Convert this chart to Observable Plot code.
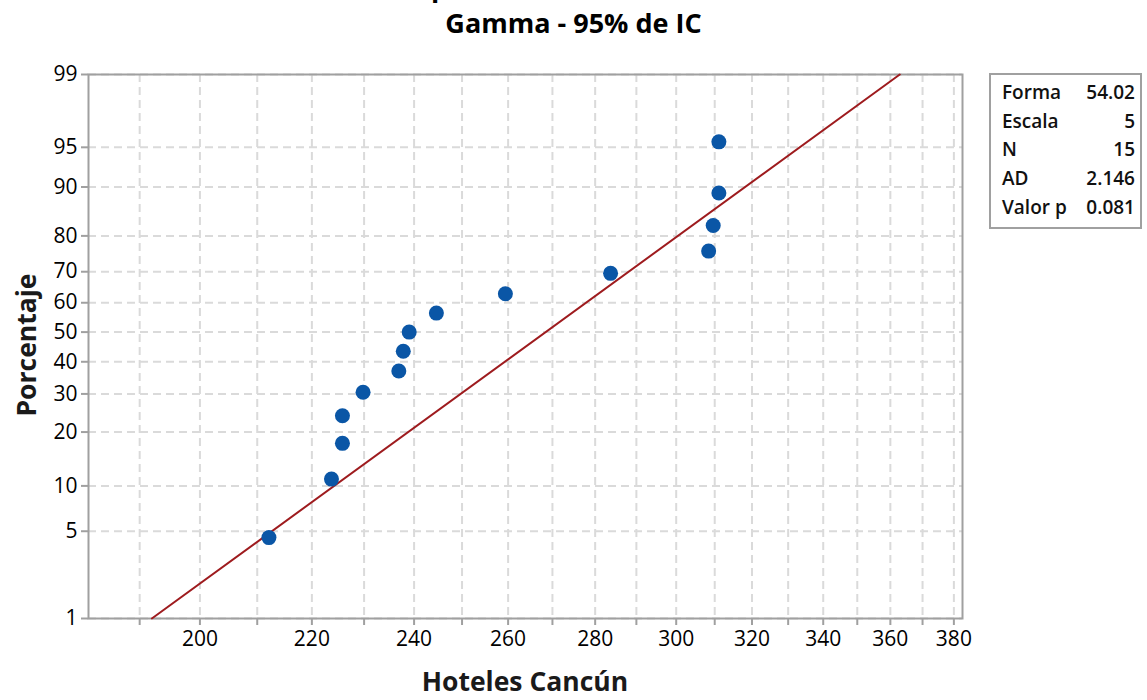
<!DOCTYPE html>
<html>
<head>
<meta charset="utf-8">
<script src="https://cdn.jsdelivr.net/npm/d3@7"></script>
<script src="https://cdn.jsdelivr.net/npm/@observablehq/plot@0.6"></script>
<style>
  html, body { margin: 0; padding: 0; background: #fff; }
  #wrap { position: relative; width: 1147px; height: 700px; overflow: hidden; font-family: "Open Sans", sans-serif; }
  .title { position: absolute; left: 0; width: 1147px; text-align: center; font-weight: 700; font-size: 27px; color: #000; white-space: nowrap; line-height: 1.2; }
  .axlab { position: absolute; font-weight: 700; font-size: 26.5px; color: #1a1a1a; white-space: nowrap; line-height: 1.2; }
  #legend { position: absolute; left: 989px; top: 73px; width: 149px; height: 152px; border: 2px solid #a0a0a0; box-sizing: content-box; }
  #legend .row { position: absolute; left: 11px; right: 5px; font-size: 19px; font-weight: 600; color: #111; display: flex; justify-content: space-between; line-height: 1.2; }
</style>
</head>
<body>
<div id="wrap"></div>
<script>
// ---- data ----
const hoteles = [212.1, 223.7, 225.8, 225.8, 229.8, 236.9, 237.8, 239.0, 244.6, 259.4, 283.7, 308.4, 309.6, 311.1, 311.1];
const porcentaje = [4.5, 11.0, 17.5, 24.0, 30.5, 37.0, 43.5, 50.0, 56.5, 63.0, 69.5, 76.0, 82.5, 89.0, 95.5];
const yTickValues = [1, 5, 10, 20, 30, 40, 50, 60, 70, 80, 90, 95, 99];
const xGridValues = [190, 200, 210, 220, 230, 240, 250, 260, 270, 280, 290, 300, 310, 320, 330, 340, 350, 360, 370, 380];
const xLabelValues = [200, 220, 240, 260, 280, 300, 320, 340, 360, 380];
const statLabels = ["Forma", "Escala", "N", "AD", "Valor p"];
const statValues = ["54.02", "5", "15", "2.146", "0.081"];
const forma = 54.02, escala = 5;
const fitPercents = [1, 99];

// ---- probability scale helpers ----
function normInv(p) {
  const a = [-3.969683028665376e+01, 2.209460984245205e+02, -2.759285104469687e+02, 1.383577518672690e+02, -3.066479806614716e+01, 2.506628277459239e+00];
  const b = [-5.447609879822406e+01, 1.615858368580409e+02, -1.556989798598866e+02, 6.680131188771972e+01, -1.328068155288572e+01];
  const c = [-7.784894002430293e-03, -3.223964580411365e-01, -2.400758277161838e+00, -2.549732539343734e+00, 4.374664141464968e+00, 2.938163982698783e+00];
  const d = [7.784695709041462e-03, 3.224671290700398e-01, 2.445134137142996e+00, 3.754408661907416e+00];
  const pl = 0.02425;
  let q, r;
  if (p < pl) { q = Math.sqrt(-2 * Math.log(p)); return (((((c[0]*q+c[1])*q+c[2])*q+c[3])*q+c[4])*q+c[5]) / ((((d[0]*q+d[1])*q+d[2])*q+d[3])*q+1); }
  if (p > 1 - pl) { q = Math.sqrt(-2 * Math.log(1 - p)); return -(((((c[0]*q+c[1])*q+c[2])*q+c[3])*q+c[4])*q+c[5]) / ((((d[0]*q+d[1])*q+d[2])*q+d[3])*q+1); }
  q = p - 0.5; r = q * q;
  return (((((a[0]*r+a[1])*r+a[2])*r+a[3])*r+a[4])*r+a[5])*q / (((((b[0]*r+b[1])*r+b[2])*r+b[3])*r+b[4])*r+1);
}
// Wilson–Hilferty gamma quantile (unit scale)
function gammaQ(p, k) {
  const z = normInv(p);
  const t = 1 - 1 / (9 * k) + z / (3 * Math.sqrt(k));
  return k * t * t * t;
}
const tr = pct => Math.log(gammaQ(pct / 100, forma));

const points = hoteles.map((v, i) => ({x: v, y: tr(porcentaje[i])}));
const fit = fitPercents.map(p => ({x: escala * gammaQ(p / 100, forma), y: tr(p)}));
const yTicksT = yTickValues.map(tr);
const yLabelMap = new Map(yTicksT.map((t, i) => [t, String(yTickValues[i])]));

const gridStyle = {stroke: "#dadada", strokeWidth: 2, strokeDasharray: "8,5"};

const chart = Plot.plot({
  width: 1147,
  height: 700,
  marginLeft: 88,
  marginRight: 185,
  marginTop: 74,
  marginBottom: 82,
  style: {fontFamily: "Open Sans, sans-serif", fontSize: "21px", color: "#000", background: "transparent"},
  x: {type: "log", domain: [181.9, 382.8]},
  y: {type: "linear", domain: [tr(1), tr(99)]},
  marks: [
    Plot.ruleX(xGridValues, gridStyle),
    Plot.ruleY(yTicksT, gridStyle),
    Plot.axisX(xGridValues, {
      tickFormat: d => xLabelValues.includes(d) ? String(d) : "",
      tickSize: 7, tickPadding: 6, stroke: "#a0a0a0", strokeWidth: 2, fill: "#000", label: null
    }),
    Plot.axisY(yTicksT, {
      tickFormat: v => yLabelMap.get(v),
      tickSize: 7, tickPadding: 4, stroke: "#a0a0a0", strokeWidth: 2, fill: "#000", label: null
    }),
    Plot.frame({stroke: "#a0a0a0", strokeWidth: 2}),
    Plot.line(fit, {x: "x", y: "y", stroke: "#9e1b1e", strokeWidth: 2}),
    Plot.dot(points, {x: "x", y: "y", r: 7.5, fill: "#0a56a6", stroke: "none"})
  ]
});

const wrap = document.getElementById("wrap");
chart.style.position = "absolute";
chart.style.left = "0px";
chart.style.top = "0px";
wrap.appendChild(chart);

const t1 = document.createElement("div");
t1.className = "title";
t1.style.top = "-29px";
t1.textContent = "Gráfica de probabilidad de Hoteles Cancún";
wrap.appendChild(t1);

const t2 = document.createElement("div");
t2.className = "title";
t2.style.top = "7px";
t2.textContent = "Gamma - 95% de IC";
wrap.appendChild(t2);

const xl = document.createElement("div");
xl.className = "axlab";
xl.style.left = "0px";
xl.style.width = String(88 + 962) + "px";
xl.style.textAlign = "center";
xl.style.top = "666px";
xl.textContent = "Hoteles Cancún";
wrap.appendChild(xl);

const yl = document.createElement("div");
yl.className = "axlab";
yl.textContent = "Porcentaje";
yl.style.left = "27px"; yl.style.top = "345px";
yl.style.transform = "translate(-50%, -50%) rotate(-90deg)";
wrap.appendChild(yl);

const lg = document.createElement("div");
lg.id = "legend";
statLabels.forEach((lab, i) => {
  const r = document.createElement("div");
  r.className = "row";
  r.style.top = (6 + i * 28.7) + "px";
  const a = document.createElement("span"); a.textContent = lab;
  const b = document.createElement("span"); b.textContent = statValues[i];
  r.appendChild(a); r.appendChild(b);
  lg.appendChild(r);
});
wrap.appendChild(lg);
</script>
</body>
</html>
